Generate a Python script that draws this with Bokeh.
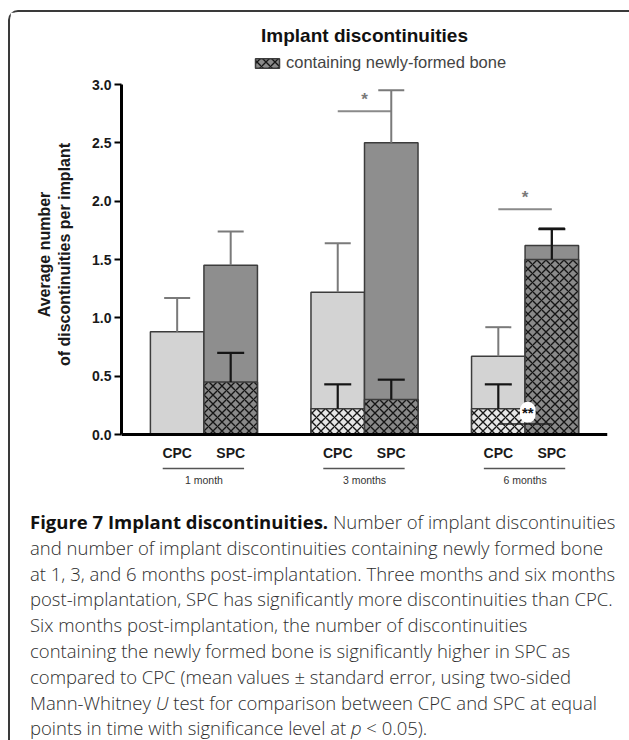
from bokeh.plotting import figure
from bokeh.models import (FactorRange, Range1d, Span, Whisker, TeeHead, ColumnDataSource,
                          Legend, LegendItem, FixedTicker, PrintfTickFormatter, Div)
from bokeh.layouts import column
from bokeh.embed import file_html
from bokeh.resources import INLINE
from bokeh.core.properties import value

# ---------------- data ----------------
months = ["1 month", "3 months", "6 months"]
materials = ["CPC", "SPC"]
# all discontinuities (mean, standard error)
total_mean = [0.88, 1.45, 1.22, 2.50, 0.67, 1.62]
total_se = [0.29, 0.29, 0.42, 0.45, 0.25, 0.15]
# discontinuities containing newly-formed bone (mean, standard error)
bone_mean = [0.00, 0.45, 0.22, 0.30, 0.22, 1.50]
bone_se = [0.00, 0.25, 0.21, 0.17, 0.21, 0.26]
y_ticks = [0.0, 0.5, 1.0, 1.5, 2.0, 2.5, 3.0]
# significance marks
sig_months = ["3 months", "6 months"]
sig_levels = [2.77, 1.93]
bone_sig_month = "6 months"
bone_sig_level = 0.09

FONT = "Liberation Sans"
factors = [(m, g) for m in months for g in materials]
mat_of = [g for m in months for g in materials]
col_total = {"CPC": "#d3d3d3", "SPC": "#8e8e8e"}
col_bone = {"CPC": "#e6e6e6", "SPC": "#8a8a8a"}

src_total = ColumnDataSource(dict(
    x=factors, top=total_mean,
    hi=[m + s for m, s in zip(total_mean, total_se)],
    color=[col_total[g] for g in mat_of]))
keep = [i for i, v in enumerate(bone_mean) if v > 0]
src_bone = ColumnDataSource(dict(
    x=[factors[i] for i in keep], top=[bone_mean[i] for i in keep],
    hi=[bone_mean[i] + bone_se[i] for i in keep],
    color=[col_bone[mat_of[i]] for i in keep]))

p = figure(width=616, height=478,
           x_range=FactorRange(*factors, group_padding=1.0, range_padding=0.54,
                               range_padding_units="absolute"),
           y_range=Range1d(-0.48, 3.566),
           output_backend="svg", toolbar_location=None,
           min_border_left=111, min_border_right=19, min_border_top=6, min_border_bottom=0)
p.outline_line_color = None
p.xgrid.visible = False
p.ygrid.visible = False
p.xaxis.visible = False

# bars
p.vbar(x="x", top="top", width=1.0, source=src_total, fill_color="color",
       line_color="#3c3c3c", line_width=1.5)
r_bone = p.vbar(x="x", top="top", width=1.0, source=src_bone, fill_color="color",
                hatch_pattern="diagonal_cross", hatch_color="#151515", hatch_scale=9,
                hatch_weight=1.4, line_color="#3c3c3c", line_width=1.5)

# error bars
p.add_layout(Whisker(source=src_total, base="x", lower="top", upper="hi", dimension="height",
                     line_color="#7a7a7a", line_width=2, level="annotation",
                     upper_head=TeeHead(size=26, line_color="#7a7a7a", line_width=2),
                     lower_head=None))
p.add_layout(Whisker(source=src_bone, base="x", lower="top", upper="hi", dimension="height",
                     line_color="#151515", line_width=2.2, level="annotation",
                     upper_head=TeeHead(size=27, line_color="#151515", line_width=2.2),
                     lower_head=None))

# x axis line
p.add_layout(Span(location=0, dimension="width", line_color="black", line_width=3,
                  level="annotation"))

# y axis
ya = p.yaxis[0]
ya.ticker = FixedTicker(ticks=y_ticks)
ya.bounds = (0, 3)
ya.formatter = PrintfTickFormatter(format="%.1f")
ya.axis_line_width = 3
ya.axis_line_color = "black"
ya.major_tick_line_width = 2
ya.major_tick_out = 7
ya.major_tick_in = 0
ya.minor_tick_line_color = None
ya.major_label_text_font = FONT
ya.major_label_text_font_style = "bold"
ya.major_label_text_font_size = "14px"
ya.major_label_text_color = "#1a1a1a"
ya.major_label_standoff = 3
ya.axis_label = "Average number\nof discontinuities per implant"
ya.axis_label_text_font = FONT
ya.axis_label_text_font_style = "bold"
ya.axis_label_text_font_size = "16px"
ya.axis_label_text_color = "#1a1a1a"
ya.axis_label_standoff = 16

# category labels under the axis
p.text(x=factors, y=[-0.156] * len(factors), text=mat_of, text_font=value(FONT),
       text_font_style="bold", text_font_size="14px", text_color="#1a1a1a",
       text_align="center", text_baseline="middle")
p.segment(x0=[(m, "CPC", -0.27) for m in months], x1=[(m, "SPC", 0.25) for m in months],
          y0=[-0.291] * 3, y1=[-0.291] * 3, line_color="#555555", line_width=1.5)
p.text(x=[(m, "CPC", 0.5) for m in months], y=[-0.39] * 3, text=months,
       text_font=value(FONT), text_font_size="10.5px", text_color="#333333",
       text_align="center", text_baseline="middle")

# significance brackets
p.segment(x0=[(m, "CPC") for m in sig_months], x1=[(m, "SPC") for m in sig_months],
          y0=sig_levels, y1=sig_levels, line_color="#8a8a8a", line_width=2)
p.text(x=[(m, "CPC", 0.5) for m in sig_months], y=[v + 0.1 for v in sig_levels],
       text=["*"] * len(sig_months), text_font=value(FONT), text_font_style="bold",
       text_font_size="17px", text_color="#7a7a7a", text_align="center",
       text_baseline="middle")
p.segment(x0=[(bone_sig_month, "CPC")], x1=[(bone_sig_month, "SPC")],
          y0=[bone_sig_level], y1=[bone_sig_level], line_color="#222222", line_width=1.5)
p.text(x=[(bone_sig_month, "CPC", 0.55)], y=[bone_sig_level + 0.1], text=["**"],
       text_font=value(FONT), text_font_style="bold", text_font_size="15px",
       text_color="#111111", text_align="center", text_baseline="middle",
       background_fill_color="white", border_radius=8, padding=2)

# title and legend
p.text(x=[("3 months", "CPC", 0.5)], y=[3.42], text=["Implant discontinuities"],
       text_font=value(FONT), text_font_style="bold", text_font_size="19px",
       text_color="#111111", text_align="center", text_baseline="middle")
legend = Legend(items=[LegendItem(label="containing newly-formed bone", renderers=[r_bone])],
                location=(131, 418), orientation="horizontal",
                border_line_color=None, background_fill_alpha=0, padding=0, margin=0,
                glyph_width=30, glyph_height=12, label_height=12, label_standoff=4,
                label_text_font=FONT, label_text_font_size="16.5px",
                label_text_color="#444444")
p.add_layout(legend)

caption = (
    '<div style="font-family:\'Open Sans\';font-weight:300;font-size:18.5px;line-height:25.8px;'
    'color:#2e2e2e;white-space:nowrap;padding:14px 0 0 15px;">'
    '<b style="font-weight:700;color:#111">Figure 7 Implant discontinuities.</b> '
    'Number of implant discontinuities<br>'
    'and number of implant discontinuities containing newly formed bone<br>'
    'at 1, 3, and 6 months post-implantation. Three months and six months<br>'
    'post-implantation, SPC has significantly more discontinuities than CPC.<br>'
    'Six months post-implantation, the number of discontinuities<br>'
    'containing the newly formed bone is significantly higher in SPC as<br>'
    'compared to CPC (mean values &plusmn; standard error, using two-sided<br>'
    'Mann-Whitney <i>U</i> test for comparison between CPC and SPC at equal<br>'
    'points in time with significance level at <i>p</i> &lt; 0.05).'
    '</div>')
div = Div(text=caption, width=616, height=248)

layout = column(p, div, styles={"margin": "10px 0 0 8px",
                                "border-top": "2px solid #3a3a3a",
                                "border-left": "2px solid #3a3a3a",
                                "border-right": "2px solid #3a3a3a",
                                "border-radius": "10px 10px 0 0"})

open("out.html", "w").write(file_html(layout, INLINE))
